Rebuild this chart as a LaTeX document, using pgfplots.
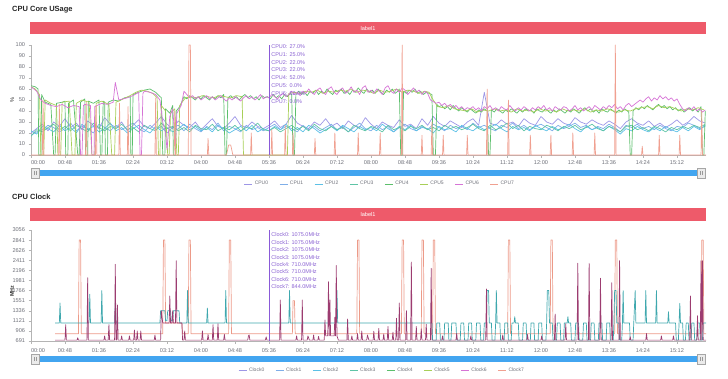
\documentclass[border=0pt]{standalone}
\usepackage{fontspec}
\setmainfont{Liberation Sans}
\usepackage{pgfplots}
\usepackage{pgfplotstable}
\pgfplotsset{compat=1.18}

\definecolor{k0}{HTML}{9D96E6}
\definecolor{k1}{HTML}{7FAEE8}
\definecolor{k2}{HTML}{5CC0E6}
\definecolor{k3}{HTML}{5EC4A6}
\definecolor{k4}{HTML}{5CBF6C}
\definecolor{k5}{HTML}{A8CF58}
\definecolor{k6}{HTML}{D674D6}
\definecolor{k7}{HTML}{F0A090}
\definecolor{tealvis}{HTML}{3FA8AE}
\definecolor{maroonvis}{HTML}{9C3C70}
\definecolor{salmonvis}{HTML}{EC9A88}
\definecolor{barred}{HTML}{EE5A6A}
\definecolor{sliderblue}{HTML}{42A5F0}
\definecolor{axisgrey}{HTML}{B4B4B4}
\definecolor{labelgrey}{HTML}{6E7079}
\definecolor{tipline}{HTML}{8A5AD8}
\definecolor{tiptext}{HTML}{8A62D2}

\pgfplotstableread{
t c0 c1 c2 c3
0 20 18 22 17
8 24 21 19 23
16 28 23 26 21
24 22 27 24 25
32 30 25 21 28
40 26 21 27 23
48 33 24 22 26
56 25 29 25 22
64 29 22 20 27
72 23 26 28 24
80 31 24 23 21
88 27 20 26 29
96 24 28 21 25
104 34 25 24 22
112 28 22 29 26
120 25 27 22 24
128 30 23 25 28
136 22 26 20 23
144 27 29 24 25
152 32 24 27 21
160 26 21 23 27
168 24 27 20 24
176 29 23 26 22
184 35 26 22 29
192 28 20 25 24
200 24 25 21 26
208 31 27 24 22
216 27 22 28 25
224 25 28 23 21
232 30 24 26 27
240 23 21 22 24
248 28 26 25 23
256 33 23 21 28
264 26 29 27 22
272 24 22 24 25
280 29 26 20 23
288 35 24 23 27
296 27 21 26 22
304 25 27 22 25
312 30 23 27 24
320 26 25 21 29
328 24 22 24 23
336 27 25 22 22
344 31 28 26 25
352 25 23 23 21
360 28 26 28 24
368 36 24 22 27
376 29 21 25 23
384 26 27 21 26
392 24 23 27 22
400 30 26 24 28
408 27 22 20 24
416 33 25 23 22
424 26 28 26 26
432 29 23 22 23
440 24 26 27 25
448 31 21 24 21
456 27 25 21 27
464 25 29 26 24
472 34 24 23 22
480 28 22 25 26
488 24 27 22 24
496 30 23 28 21
504 27 26 24 27
512 25 21 21 23
520 32 25 26 25
528 26 28 23 22
536 28 24 27 26
544 24 22 22 24
552 33 26 25 27
560 27 23 24 23
568 35 28 20 25
576 29 25 26 22
584 26 22 23 27
592 31 27 24 24
600 28 24 21 26
608 25 26 27 23
616 30 23 24 25
624 33 29 22 28
632 27 25 26 24
640 57 27 23 22
648 29 24 25 27
656 27 22 28 23
664 32 27 24 25
672 28 25 21 29
680 30 29 26 24
688 26 24 23 27
696 33 27 25 22
704 29 23 22 26
712 27 26 27 24
720 35 28 24 23
728 30 25 22 27
736 28 22 26 25
744 33 27 23 22
752 29 24 25 26
760 27 26 28 24
768 34 29 24 27
776 30 25 21 23
784 28 27 26 25
792 32 23 23 28
800 29 26 25 24
808 27 24 22 22
816 31 28 26 26
824 28 25 23 24
832 24 21 19 21
840 30 27 24 26
848 33 25 22 27
856 29 28 26 23
864 27 24 23 25
872 31 26 21 22
880 26 23 25 26
888 29 27 22 24
896 25 24 26 21
904 28 22 23 25
912 32 26 21 23
920 27 25 25 26
928 30 29 22 24
936 35 27 26 27
944 31 24 23 25
952 29 26 27 28
}\lowgroup

\pgfplotsset{
  chartaxis/.style={
    scale only axis, anchor=south west,
    xmin=0, xmax=953,
    axis x line*=bottom, axis y line*=left,
    axis line style={draw=axisgrey, line width=0.5bp},
    tick style={draw=axisgrey, line width=0.4bp},
    major tick length=2.5bp, tick align=outside,
    xtick={0,48,...,912},
    xticklabels={\makebox[0pt][l]{00:00},00:48,01:36,02:24,03:12,04:00,04:48,05:36,06:24,07:12,08:00,08:48,09:36,10:24,11:12,12:00,12:48,13:36,14:24,15:12},
    ticklabel style={font=\fontsize{5.6bp}{6.5bp}\selectfont, text=labelgrey},
    /pgf/number format/assume math mode=true,
    /pgf/number format/1000 sep={},
    every axis plot/.append style={line width=0.7bp, line join=round},
    legend style={draw=none, fill=none, legend columns=8, anchor=center,
      font=\fontsize{5bp}{6bp}\selectfont, text=labelgrey,
      /tikz/every even column/.append style={column sep=9bp}},
    legend image code/.code={\draw[#1, line width=0.8bp] (0bp,0bp) -- (8bp,0bp);},
  }
}

\begin{document}
\begin{tikzpicture}[x=1bp,y=1bp]
\path[use as bounding box] (0,0) rectangle (728,378);

% ---------- top chart ----------
\node[anchor=west, inner sep=0, font=\fontsize{7.5bp}{9bp}\selectfont\bfseries, text=black!85] at (12,368) {CPU Core USage};
\fill[barred] (30,343.7) rectangle (706,355.7);
\node[text=white, font=\fontsize{5.6bp}{6.5bp}\selectfont] at (368,349.7) {label1};

\begin{axis}[chartaxis, at={(31bp,223bp)}, width=675bp, height=110bp,
  ymin=0, ymax=100, ytick={0,10,...,100},
  ylabel={\%}, every axis y label/.style={at={(rel axis cs:-0.028,0.5)}, rotate=90, anchor=center, font=\fontsize{5.6bp}{6.5bp}\selectfont, text=black!80},
  legend style={at={(0.517,-0.2636)}}]
\addplot[k0] table[x=t,y=c0] {\lowgroup};
\addlegendentry{CPU0}
\addplot[k1] table[x=t,y=c1] {\lowgroup};
\addlegendentry{CPU1}
\addplot[k2] table[x=t,y=c2] {\lowgroup};
\addlegendentry{CPU2}
\addplot[k3] table[x=t,y=c3] {\lowgroup};
\addlegendentry{CPU3}
\addplot[k4] coordinates {(0,63)(6,62)(10,60)(11,0)(14,0)(15,55)(20,48)(28,46)(32,0)(34,0)(36,47)(44,48)(48,49)(49,0)(52,0)(53,47)(60,50)(66,0)(68,0)(70,48)(76,51)(77,0)(80,0)(81,49)(88,47)(96,50)(98,0)(100,0)(102,49)(104,48)(105,0)(108,0)(109,48)(116,50)(124,49)(132,52)(140,53)(141,0)(143,0)(144,55)(152,57)(160,59)(168,60)(176,57)(184,52)(186,0)(189,0)(190,42)(196,38)(200,45)(201,0)(204,0)(205,40)(210,44)(216,53)(220,51)(224,54)(228,52)(232,50)(236,53)(240,51)(244,54)(248,52)(252,50)(256,53)(260,51)(264,54)(268,52)(272,55)(274,0)(276,0)(278,52)(282,54)(286,51)(290,53)(294,50)(298,53)(302,55)(306,52)(310,54)(314,51)(318,53)(322,50)(326,54)(330,52)(334,53)(338,51)(342,55)(346,52)(350,54)(354,51)(358,55)(362,53)(366,56)(368,55)(370,0)(372,0)(374,55)(378,58)(382,55)(386,57)(390,54)(394,58)(398,56)(402,59)(406,55)(410,58)(414,56)(418,60)(422,57)(426,55)(430,59)(434,57)(438,60)(442,56)(446,58)(450,55)(454,59)(458,57)(462,61)(466,58)(470,56)(474,60)(478,57)(482,59)(486,56)(490,60)(494,57)(498,55)(502,59)(506,57)(510,60)(514,56)(518,58)(520,60)(522,0)(524,0)(526,58)(530,56)(534,59)(538,57)(542,60)(546,56)(550,58)(554,55)(558,57)(562,56)(566,55)(568,0)(571,0)(573,46)(576,44)(580,45)(584,42)(588,44)(592,41)(596,45)(600,42)(604,40)(608,43)(612,41)(616,39)(620,42)(624,40)(628,38)(632,41)(636,39)(640,42)(644,40)(646,0)(648,0)(650,41)(654,39)(658,42)(662,40)(666,38)(670,41)(674,39)(678,42)(682,40)(686,38)(690,41)(694,39)(698,42)(702,40)(706,41)(710,38)(714,42)(718,40)(722,39)(726,42)(730,40)(734,38)(738,41)(742,39)(746,42)(750,40)(754,38)(758,41)(762,39)(766,42)(770,40)(774,38)(778,41)(782,43)(786,40)(790,42)(794,39)(798,41)(802,38)(806,42)(810,40)(814,39)(818,42)(822,40)(826,38)(830,41)(834,39)(838,42)(844,39)(846,0)(848,0)(850,40)(854,43)(858,41)(862,44)(866,42)(870,45)(874,43)(878,41)(882,44)(886,46)(890,43)(894,45)(898,42)(902,44)(906,41)(910,43)(914,40)(918,42)(922,39)(926,41)(930,43)(934,40)(938,42)(942,39)(946,44)(948,0)(950,0)(952,40)};
\addlegendentry{CPU4}
\addplot[k5] coordinates {(0,62)(6,60)(12,55)(14,0)(18,0)(20,50)(28,47)(36,45)(38,0)(42,0)(44,48)(54,49)(58,0)(62,0)(64,47)(72,50)(82,48)(86,0)(90,0)(92,47)(100,49)(110,46)(114,0)(118,0)(120,48)(130,51)(140,54)(148,57)(156,59)(164,58)(172,56)(178,52)(180,0)(182,0)(184,45)(190,40)(193,0)(195,0)(197,38)(203,42)(206,0)(208,0)(210,45)(218,52)(226,53)(234,52)(242,54)(250,53)(258,52)(266,54)(274,53)(282,52)(290,54)(298,53)(300,0)(362,0)(364,56)(372,57)(380,56)(388,58)(396,57)(404,59)(412,56)(420,58)(428,57)(436,59)(444,58)(452,60)(460,57)(468,59)(476,58)(484,56)(492,59)(500,57)(508,58)(516,60)(524,57)(532,59)(540,58)(548,56)(556,58)(562,57)(566,52)(574,44)(582,43)(590,45)(598,42)(606,41)(614,40)(622,42)(630,39)(638,41)(646,40)(654,42)(662,40)(670,41)(678,39)(686,42)(694,40)(702,41)(710,39)(718,42)(726,40)(734,41)(742,39)(750,42)(758,40)(766,41)(774,40)(782,42)(790,39)(798,41)(806,40)(814,42)(822,40)(830,39)(838,41)(846,40)(854,42)(862,43)(870,44)(878,42)(886,45)(894,43)(902,44)(910,42)(918,40)(926,42)(934,41)(942,43)(950,41)};
\addlegendentry{CPU5}
\addplot[k6] coordinates {(0,62)(8,58)(14,50)(20,47)(28,45)(36,44)(44,46)(52,43)(60,45)(68,44)(70,0)(72,0)(74,45)(76,46)(84,45)(86,0)(89,0)(90,44)(100,47)(108,46)(116,48)(119,66)(124,50)(136,52)(144,54)(152,57)(154,0)(156,0)(158,56)(160,58)(168,57)(176,55)(182,50)(186,30)(190,20)(192,5)(196,35)(200,42)(204,10)(206,38)(212,45)(216,58)(220,55)(224,52)(228,54)(232,51)(236,53)(240,50)(244,52)(248,54)(252,51)(256,53)(260,50)(264,52)(268,54)(272,51)(276,49)(280,52)(284,50)(288,53)(292,51)(296,49)(300,52)(304,54)(308,51)(312,53)(316,50)(320,52)(324,55)(328,51)(332,53)(336,52)(340,55)(344,53)(348,51)(352,54)(356,56)(360,53)(364,55)(368,58)(372,55)(376,57)(380,54)(384,58)(388,56)(392,60)(396,57)(400,55)(404,59)(408,61)(412,57)(416,55)(420,60)(424,62)(428,57)(432,55)(436,59)(440,61)(444,56)(448,58)(452,62)(456,57)(460,59)(464,55)(468,61)(472,63)(476,57)(480,59)(484,56)(488,60)(492,58)(496,55)(500,61)(504,63)(508,58)(512,56)(516,60)(520,57)(524,61)(528,59)(532,55)(536,58)(540,61)(544,57)(548,59)(552,55)(556,58)(560,56)(564,50)(572,47)(576,48)(580,45)(584,47)(588,44)(592,46)(596,43)(600,45)(604,42)(608,44)(612,41)(616,43)(620,42)(624,44)(628,41)(632,43)(636,40)(640,44)(644,42)(648,45)(652,41)(656,43)(660,40)(664,44)(668,42)(672,41)(676,45)(680,42)(684,40)(688,43)(692,41)(696,44)(700,42)(704,40)(708,43)(712,41)(716,44)(720,42)(724,45)(728,41)(732,43)(736,40)(740,44)(744,42)(748,41)(752,44)(756,43)(760,40)(764,42)(768,45)(772,41)(776,43)(780,40)(784,42)(788,44)(792,41)(796,45)(800,43)(804,41)(808,44)(812,42)(816,45)(820,43)(824,46)(828,42)(832,44)(836,41)(840,45)(844,47)(848,44)(852,46)(856,48)(860,50)(864,48)(868,51)(872,53)(876,49)(880,52)(884,50)(888,54)(892,51)(896,53)(900,50)(904,52)(908,49)(912,51)(916,46)(920,42)(924,40)(928,43)(932,41)(936,44)(940,40)(944,42)(948,39)(952,41)};
\addlegendentry{CPU6}
\addplot[k7] coordinates {(0,0)(16,0)(17,50)(18,0)(39,0)(40,46)(41,0)(77,0)(78,48)(79,0)(91,0)(92,45)(93,0)(124,0)(125,47)(126,0)(136,0)(137,44)(138,0)(175,0)(176,52)(177,0)(202,0)(203,40)(204,0)(222,0)(223,100)(225,100)(226,0)(249,0)(250,15)(251,0)(276,0)(279,9)(282,9)(285,0)(310,0)(311,20)(312,0)(339,0)(340,23)(341,0)(358,0)(359,27)(360,0)(369,0)(370,20)(371,0)(400,0)(401,15)(402,0)(428,0)(429,20)(430,0)(461,0)(462,20)(463,0)(492,0)(493,20)(494,0)(523,0)(524,100)(525,0)(551,0)(552,18)(553,0)(565,0)(566,30)(567,0)(581,0)(582,18)(583,0)(615,0)(616,18)(617,0)(643,0)(644,60)(645,0)(673,0)(674,50)(675,0)(704,0)(705,18)(706,0)(733,0)(734,18)(735,0)(764,0)(765,20)(766,0)(795,0)(796,20)(797,0)(824,0)(825,100)(826,0)(862,0)(863,8)(864,0)(886,0)(887,18)(888,0)(915,0)(916,18)(917,0)(946,0)(947,40)(948,0)(953,0)};
\addlegendentry{CPU7}
\addplot[tipline, line width=0.8bp, forget plot] coordinates {(336,0)(336,100)};
\foreach \lab [count=\i from 0] in {CPU0: 27.0\%,CPU1: 25.0\%,CPU2: 22.0\%,CPU3: 22.0\%,CPU4: 52.0\%,CPU5: 0.0\%,CPU6: 52.0\%,CPU7: 0.0\%}{
  \edef\temp{\noexpand\node[anchor=west, inner sep=0, text=tiptext, font=\noexpand\fontsize{5.5bp}{6bp}\noexpand\selectfont] at (axis cs:339,{98.5-7.1*\i}) {\unexpanded\expandafter{\lab}};}
  \temp
}
\end{axis}

\fill[sliderblue] (31,202.3) rectangle (706,208);
\filldraw[fill=black!8, draw=black!35, line width=0.4bp] (31,200) rectangle (39.5,210);
\filldraw[fill=black!8, draw=black!35, line width=0.4bp] (697,200) rectangle (705.5,210);
\draw[black!40, line width=0.3bp] (34,203)--(34,207) (36.5,203)--(36.5,207) (700,203)--(700,207) (702.5,203)--(702.5,207);

% ---------- bottom chart ----------
\node[anchor=west, inner sep=0, font=\fontsize{7.5bp}{9bp}\selectfont\bfseries, text=black!85] at (12,181.3) {CPU Clock};
\fill[barred] (30,157) rectangle (706,170.3);
\node[text=white, font=\fontsize{5.6bp}{6.5bp}\selectfont] at (368,163.6) {label1};

\begin{axis}[chartaxis, at={(31bp,37bp)}, width=675bp, height=111bp,
  ymin=691, ymax=3056, ytick={691,906,...,3056},
  xticklabel style={yshift=-1.5bp},
  ylabel={MHz}, every axis y label/.style={at={(rel axis cs:-0.028,0.45)}, rotate=90, anchor=center, font=\fontsize{5.4bp}{6.5bp}\selectfont\bfseries, text=black!80},
  legend style={at={(0.52,-0.261)}}]
\addlegendimage{k0}\addlegendentry{Clock0}
\addlegendimage{k1}\addlegendentry{Clock1}
\addlegendimage{k2}\addlegendentry{Clock2}
\addlegendimage{k3}\addlegendentry{Clock3}
\addlegendimage{k4}\addlegendentry{Clock4}
\addlegendimage{k5}\addlegendentry{Clock5}
\addlegendimage{k6}\addlegendentry{Clock6}
\addlegendimage{k7}\addlegendentry{Clock7}
% Clock7
\addplot[salmonvis, forget plot] coordinates {(34,844)(67,844)(68,2841)(70,2841)(71,844)(186,844)(187,2841)(189,2841)(190,1075)(213,1075)(214,844)(222,844)(223,2841)(225,2841)(226,844)(279,844)(280,2841)(282,2841)(283,844)(369,844)(370,1551)(372,1551)(373,844)(460,844)(461,2841)(463,2841)(464,844)(523,844)(524,2841)(526,2841)(527,844)(551,844)(552,2841)(554,2841)(555,844)(567,844)(568,2841)(570,2841)(571,844)(673,844)(674,2841)(676,2841)(677,844)(733,844)(734,2841)(736,2841)(737,844)(824,844)(825,2841)(827,2841)(828,844)(946,844)(947,2841)(949,2841)(950,844)(953,844)};
% Clock0-3 (same readings)
\addplot[tealvis, forget plot] coordinates {(34,1075)(40,1075)(41,1500)(42,1075)(82,1075)(83,1690)(84,1075)(99,1075)(100,1766)(101,1075)(118,1075)(119,1500)(120,1075)(182,1075)(183,1336)(189,1336)(190,1121)(192,1121)(193,1336)(197,1336)(198,1121)(200,1121)(201,1336)(209,1336)(210,1075)(220,1075)(221,1766)(222,1075)(248,1075)(249,1394)(250,1075)(274,1075)(275,1766)(276,1075)(364,1075)(365,1766)(366,1075)(431,1075)(432,1766)(433,1075)(566,1075)(567,710)(572,710)(573,1075)(577,1075)(578,710)(583,710)(584,1075)(589,1075)(590,710)(593,710)(594,1075)(600,1075)(601,710)(606,710)(607,1075)(611,1075)(612,710)(617,710)(618,1075)(622,1075)(623,710)(628,710)(629,1075)(634,1075)(635,710)(639,710)(640,1075)(643,1075)(644,1766)(646,1766)(647,1075)(650,1075)(651,710)(655,710)(656,1075)(657,1766)(658,1075)(662,1075)(663,710)(668,710)(669,1075)(673,1075)(674,710)(678,710)(679,1075)(682,1075)(683,1209)(684,1075)(688,1075)(689,710)(694,710)(695,1075)(699,1075)(700,710)(705,710)(706,1075)(710,1075)(711,710)(716,710)(717,1075)(721,1075)(722,710)(727,710)(728,1075)(729,1766)(731,1766)(732,1075)(736,1075)(737,710)(742,710)(743,1075)(747,1075)(748,710)(752,710)(753,1075)(757,1075)(758,1209)(759,1075)(762,1075)(763,710)(768,710)(769,1075)(773,1075)(774,710)(779,710)(780,1075)(784,1075)(785,710)(790,710)(791,1075)(795,1075)(796,710)(801,710)(802,1075)(806,1075)(807,710)(812,710)(813,1075)(817,1075)(818,710)(822,710)(823,1075)(824,1766)(826,1766)(827,1075)(830,1075)(831,710)(834,710)(835,1075)(836,1766)(837,1075)(845,1075)(846,710)(850,710)(851,1075)(853,1766)(854,1075)(867,1075)(868,1766)(869,1075)(882,1075)(883,1766)(884,1075)(899,1075)(900,1316)(901,1075)(910,1075)(911,710)(914,710)(915,1075)(916,1494)(917,1075)(920,1075)(921,710)(924,710)(925,1075)(928,1075)(929,710)(932,710)(933,1075)(936,1075)(937,710)(940,710)(941,1075)(944,1075)(945,710)(948,710)(949,1075)(953,1075)};
% Clock4-6 (same readings)
\addplot[maroonvis, forget plot] coordinates {(34,710)(48,710)(49,1040)(50,710)(65,710)(66,760)(67,710)(79,710)(80,2040)(81,710)(103,710)(104,800)(105,710)(109,710)(110,1040)(111,710)(118,710)(119,2325)(120,710)(121,710)(122,1458)(123,710)(127,710)(128,800)(129,710)(138,710)(139,800)(140,710)(145,710)(146,925)(147,710)(149,710)(150,906)(151,710)(154,710)(155,906)(156,710)(174,710)(175,820)(176,710)(183,710)(184,1336)(186,1075)(195,1075)(196,1650)(197,1075)(199,1075)(200,1336)(201,1075)(204,1075)(205,2400)(206,1075)(213,1075)(214,710)(216,710)(217,906)(218,710)(241,710)(242,906)(243,710)(249,710)(250,830)(251,710)(256,710)(257,1040)(258,710)(263,710)(264,1060)(265,710)(272,710)(273,830)(274,710)(306,710)(307,800)(308,820)(309,710)(331,710)(332,780)(333,710)(351,710)(352,1565)(353,710)(374,710)(375,800)(376,710)(382,710)(383,1565)(384,710)(390,710)(391,800)(393,710)(398,710)(399,820)(400,710)(405,710)(406,790)(407,710)(414,710)(415,1140)(416,800)(419,800)(420,1955)(421,800)(422,1565)(423,800)(428,800)(429,1200)(430,800)(431,2300)(432,800)(434,710)(446,710)(447,1160)(448,710)(452,710)(453,800)(454,710)(460,710)(461,850)(462,710)(466,710)(467,906)(468,710)(474,710)(475,820)(477,710)(483,710)(484,900)(485,710)(490,710)(491,960)(492,710)(497,710)(498,840)(499,710)(503,710)(504,1000)(505,710)(510,710)(511,880)(512,710)(515,710)(516,1175)(517,710)(519,710)(520,1500)(521,710)(529,710)(530,1336)(531,710)(536,710)(537,2374)(538,710)(543,710)(544,1000)(545,710)(550,710)(551,950)(552,710)(557,710)(558,1050)(559,710)(564,710)(565,2240)(566,710)(580,710)(581,800)(582,710)(600,710)(601,850)(602,710)(620,710)(621,800)(622,710)(642,710)(643,1800)(644,710)(665,710)(666,820)(667,710)(700,710)(701,830)(702,710)(720,710)(721,800)(722,710)(739,710)(740,1266)(741,710)(754,710)(755,1060)(756,710)(771,710)(772,2347)(773,710)(787,710)(788,2347)(789,710)(803,710)(804,2027)(805,710)(819,710)(820,1933)(821,710)(830,710)(831,2402)(832,710)(845,710)(846,780)(847,710)(868,710)(869,850)(870,710)(889,710)(890,800)(891,710)(906,710)(907,800)(908,710)(930,710)(931,1650)(932,710)(940,710)(941,1230)(942,710)(945,710)(946,2402)(947,710)(948,2402)(949,710)(953,710)};
\addplot[tipline, line width=0.8bp, forget plot] coordinates {(336,691)(336,3056)};
\foreach \lab [count=\i from 0] in {Clock0: 1075.0MHz,Clock1: 1075.0MHz,Clock2: 1075.0MHz,Clock3: 1075.0MHz,Clock4: 710.0MHz,Clock5: 710.0MHz,Clock6: 710.0MHz,Clock7: 844.0MHz}{
  \edef\temp{\noexpand\node[anchor=west, inner sep=0, text=tiptext, font=\noexpand\fontsize{5.5bp}{6bp}\noexpand\selectfont] at (axis cs:339,{2950-157.7*\i}) {\lab};}
  \temp
}
\end{axis}

\fill[sliderblue] (31,16.3) rectangle (706,22);
\filldraw[fill=black!8, draw=black!35, line width=0.4bp] (31,14.2) rectangle (39.5,24.2);
\filldraw[fill=black!8, draw=black!35, line width=0.4bp] (697,14.2) rectangle (705.5,24.2);
\draw[black!40, line width=0.3bp] (34,17.2)--(34,21.2) (36.5,17.2)--(36.5,21.2) (700,17.2)--(700,21.2) (702.5,17.2)--(702.5,21.2);
\end{tikzpicture}
\end{document}
